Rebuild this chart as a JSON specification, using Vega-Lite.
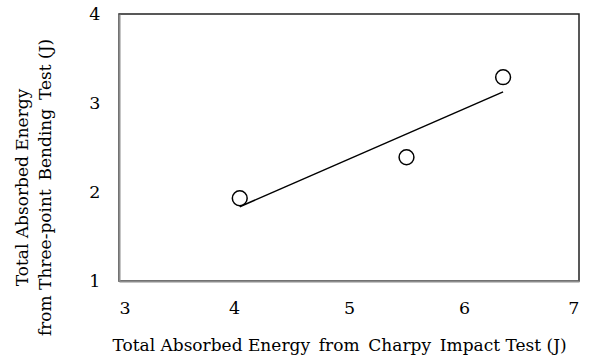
{
  "$schema": "https://vega.github.io/schema/vega-lite/v6.json",
  "autosize": "none",
  "padding": {"left": 119, "top": 14, "right": 11, "bottom": 79},
  "width": 460,
  "height": 267,
  "background": "white",
  "config": {
    "view": {"stroke": "#222222", "strokeWidth": 1.5},
    "font": "DejaVu Serif",
    "axis": {
      "grid": false,
      "ticks": false,
      "domainColor": "#8c8c8c",
      "domainWidth": 2,
      "labelFont": "DejaVu Serif",
      "labelFontSize": 17.5,
      "labelColor": "black",
      "titleFont": "DejaVu Serif",
      "titleFontSize": 17,
      "titleFontWeight": "normal",
      "titleColor": "black"
    }
  },
  "data": {
    "values": [
      {"charpy": 4.05, "bending": 1.93},
      {"charpy": 5.5, "bending": 2.39},
      {"charpy": 6.34, "bending": 3.29}
    ]
  },
  "layer": [
    {
      "transform": [{"regression": "bending", "on": "charpy"}],
      "mark": {"type": "line", "color": "black", "strokeWidth": 1.5},
      "encoding": {
        "x": {"field": "charpy", "type": "quantitative"},
        "y": {"field": "bending", "type": "quantitative"}
      }
    },
    {
      "mark": {"type": "point", "shape": "circle", "filled": false, "color": "black", "strokeWidth": 1.5, "size": 220, "opacity": 1},
      "encoding": {
        "x": {
          "field": "charpy",
          "type": "quantitative",
          "scale": {"domain": [3, 7], "nice": false, "zero": false},
          "axis": {
            "values": [3, 4, 5, 6, 7],
            "format": "d",
            "labelPadding": 18,
            "title": "Total Absorbed Energy \u2009from \u2009Charpy \u2009Impact Test (J)",
            "titleX": 220,
            "titleY": 69,
            "titleBaseline": "alphabetic"
          }
        },
        "y": {
          "field": "bending",
          "type": "quantitative",
          "scale": {"domain": [1, 4], "nice": false, "zero": false},
          "axis": {
            "values": [1, 2, 3, 4],
            "format": "d",
            "labelPadding": 19,
            "title": ["Total Absorbed Energy", "from Three-point \u2009Bending \u2009Test (J)"],
            "titleLineHeight": 23,
            "titleX": -97,
            "titleY": 173,
            "titleBaseline": "middle"
          }
        }
      }
    }
  ]
}
